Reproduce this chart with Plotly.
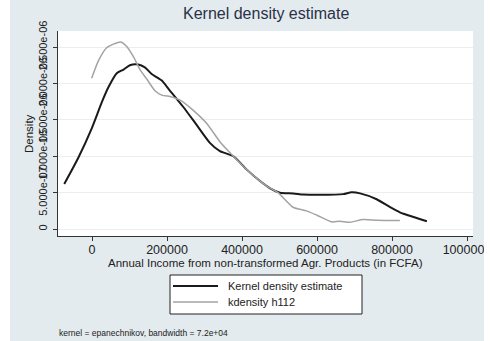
import plotly.graph_objects as go

# Kernel density estimate (epanechnikov, bw = 7.2e+04)
kde_x = [-74000, -36500, -1000, 26000, 44000, 66000, 84000, 101000, 123000,
         141000, 159000, 186000, 205000, 243000, 279000, 315000, 341000,
         377000, 412000, 448000, 475000, 501000, 537000, 563000, 608000,
         670000, 692000, 715000, 759000, 795000, 821000, 857000, 893000]
kde_y = [6.2e-07, 9.8e-07, 1.38e-06, 1.74e-06, 1.95e-06, 2.14e-06, 2.19e-06,
         2.25e-06, 2.26e-06, 2.22e-06, 2.13e-06, 2.04e-06, 1.92e-06, 1.68e-06,
         1.43e-06, 1.18e-06, 1.07e-06, 1.00e-06, 8.2e-07, 6.6e-07, 5.6e-07,
         5.0e-07, 4.9e-07, 4.75e-07, 4.7e-07, 4.8e-07, 5.05e-07, 4.9e-07,
         4.1e-07, 3.0e-07, 2.3e-07, 1.66e-07, 1.08e-07]

# kdensity h112
h112_x = [-1000, 17000, 39000, 57000, 77000, 92000, 110000, 128000, 146000,
          168000, 186000, 208000, 221000, 235000, 270000, 306000, 341000,
          377000, 412000, 466000, 496000, 536000, 572000, 600000, 640000,
          660000, 688000, 723000, 760000, 821000]
h112_y = [2.07e-06, 2.31e-06, 2.49e-06, 2.54e-06, 2.57e-06, 2.51e-06,
          2.37e-06, 2.19e-06, 2.06e-06, 1.90e-06, 1.84e-06, 1.82e-06,
          1.80e-06, 1.77e-06, 1.63e-06, 1.45e-06, 1.20e-06, 1.00e-06,
          8.2e-07, 5.9e-07, 5.0e-07, 3.0e-07, 2.5e-07, 1.9e-07, 9.8e-08,
          1.08e-07, 9.5e-08, 1.3e-07, 1.22e-07, 1.18e-07]

x_ticks = [0, 200000, 400000, 600000, 800000, 1000000]
x_ticktext = ["0", "200000", "400000", "600000", "800000", "1000000"]
y_ticks = [0, 5e-07, 1e-06, 1.5e-06, 2e-06, 2.5e-06]
y_ticktext = ["0", "5.000e-07", "1.000e-06", "1.500e-06", "2.000e-06", "2.500e-06"]

title_text = "Kernel density estimate"
x_title = "Annual Income from non-transformed Agr. Products (in FCFA)"
y_title = "Density"
legend_names = ["Kernel density estimate", "kdensity h112"]
note_text = "kernel = epanechnikov, bandwidth = 7.2e+04"

FONT = "Liberation Sans, Arial, sans-serif"
BLACK_LINE = "#1a1a1a"
GRAY_LINE = "#a3a3a3"
REGION_BG = "#e4ebee"
GRID = "#e8eef1"
AXIS = "#333333"

W, H = 490, 341
L, R, T, B = 58, 473, 31, 236


def fx(p):
    """pixel column -> paper x"""
    return (p - L) / (R - L)


def fy(p):
    """pixel row -> paper y"""
    return (B - p) / (B - T)


fig = go.Figure()
fig.add_trace(go.Scatter(x=kde_x, y=kde_y, mode="lines", name=legend_names[0],
                         line=dict(color=BLACK_LINE, width=2, shape="spline",
                                   smoothing=0.6),
                         showlegend=False))
fig.add_trace(go.Scatter(x=h112_x, y=h112_y, mode="lines", name=legend_names[1],
                         line=dict(color=GRAY_LINE, width=1.5, shape="spline",
                                   smoothing=0.6),
                         showlegend=False))

shapes = [
    # white borders outside the graph region
    dict(type="rect", xref="paper", yref="paper", layer="above",
         x0=fx(-5), x1=fx(10), y0=fy(H + 5), y1=fy(-5),
         fillcolor="white", line=dict(width=0)),
    dict(type="rect", xref="paper", yref="paper", layer="above",
         x0=fx(484), x1=fx(W + 5), y0=fy(H + 5), y1=fy(-5),
         fillcolor="white", line=dict(width=0)),
    # legend box
    dict(type="rect", xref="paper", yref="paper", layer="above",
         x0=fx(170), x1=fx(362), y0=fy(314), y1=fy(275),
         fillcolor="white", line=dict(color="#222222", width=1)),
    dict(type="line", xref="paper", yref="paper", layer="above",
         x0=fx(173), x1=fx(218), y0=fy(286), y1=fy(286),
         line=dict(color=BLACK_LINE, width=2)),
    dict(type="line", xref="paper", yref="paper", layer="above",
         x0=fx(173), x1=fx(218), y0=fy(302), y1=fy(302),
         line=dict(color=GRAY_LINE, width=1.5)),
]

annotations = [
    dict(text=title_text, xref="paper", yref="paper", x=0.5, y=fy(14),
         xanchor="center", yanchor="middle", showarrow=False,
         font=dict(family=FONT, size=16, color="#2a3148")),
    dict(text=x_title, xref="paper", yref="paper", x=fx(265), y=fy(263),
         xanchor="center", yanchor="middle", showarrow=False,
         font=dict(family=FONT, size=11.5, color="#222222")),
    dict(text=y_title, xref="paper", yref="paper", x=fx(29), y=fy(133),
         xanchor="center", yanchor="middle", showarrow=False, textangle=-90,
         font=dict(family=FONT, size=11.5, color="#222222")),
    dict(text=legend_names[0], xref="paper", yref="paper", x=fx(226), y=fy(286),
         xanchor="left", yanchor="middle", showarrow=False,
         font=dict(family=FONT, size=11, color="#222222")),
    dict(text=legend_names[1], xref="paper", yref="paper", x=fx(226), y=fy(302),
         xanchor="left", yanchor="middle", showarrow=False,
         font=dict(family=FONT, size=11, color="#222222")),
    dict(text=note_text, xref="paper", yref="paper", x=fx(57), y=fy(333),
         xanchor="left", yanchor="middle", showarrow=False,
         font=dict(family=FONT, size=8.5, color="#222222")),
]

fig.update_layout(
    width=W, height=H, autosize=False,
    margin=dict(l=L, r=W - R, t=T, b=H - B, pad=0, autoexpand=False),
    paper_bgcolor=REGION_BG, plot_bgcolor="white",
    font=dict(family=FONT, color="#222222"),
    shapes=shapes, annotations=annotations,
    showlegend=False,
)
fig.update_xaxes(
    range=[-90700, 1016000], tickmode="array", tickvals=x_ticks,
    ticktext=x_ticktext, tickfont=dict(size=12.5, color="#222222"),
    ticks="outside", ticklen=4, tickcolor=AXIS, tickwidth=1,
    ticklabelstandoff=-2, ticklabeloverflow="allow", automargin=False,
    showline=True, linecolor=AXIS, linewidth=1,
    showgrid=False, zeroline=False,
)
fig.update_yaxes(
    range=[-9.5e-08, 2.72e-06], tickmode="array", tickvals=y_ticks,
    ticktext=y_ticktext, tickangle=-90, tickfont=dict(size=11, color="#222222"),
    ticks="outside", ticklen=4, tickcolor=AXIS, tickwidth=1,
    ticklabelstandoff=2, automargin=False,
    showline=True, linecolor=AXIS, linewidth=1,
    showgrid=True, gridcolor=GRID, gridwidth=1, zeroline=False,
)

fig.write_html("out.html")
